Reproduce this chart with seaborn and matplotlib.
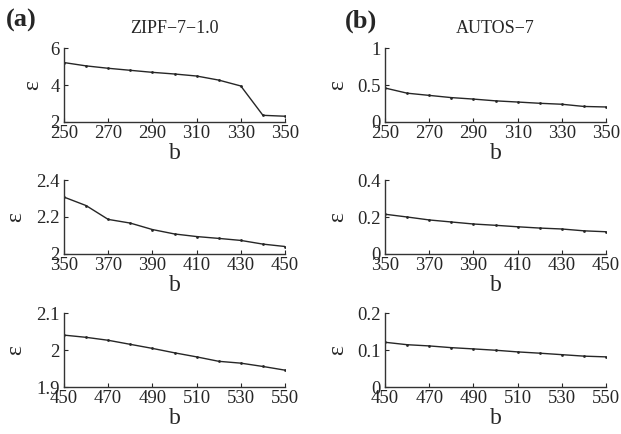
import matplotlib
matplotlib.use('Agg')
import matplotlib.pyplot as plt
import seaborn as sns
import pandas as pd

sns.set_style('ticks')
plt.rcParams['font.family'] = ['Liberation Serif', 'DejaVu Serif']
plt.rcParams['xtick.direction'] = 'in'
plt.rcParams['ytick.direction'] = 'in'

# b values per row
b_row1 = [250, 260, 270, 280, 290, 300, 310, 320, 330, 340, 350]
b_row2 = [350, 360, 370, 380, 390, 400, 410, 420, 430, 440, 450]
b_row3 = [450, 460, 470, 480, 490, 500, 510, 520, 530, 540, 550]

# ZIPF-7-1.0 epsilon
zipf_row1 = [5.22, 5.04, 4.91, 4.80, 4.69, 4.60, 4.49, 4.27, 3.95, 2.36, 2.31]
zipf_row2 = [2.308, 2.262, 2.187, 2.167, 2.132, 2.108, 2.094, 2.084, 2.073, 2.053, 2.040]
zipf_row3 = [2.041, 2.035, 2.027, 2.016, 2.005, 1.993, 1.982, 1.970, 1.965, 1.956, 1.946]

# AUTOS-7 epsilon
autos_row1 = [0.46, 0.39, 0.36, 0.33, 0.31, 0.286, 0.27, 0.253, 0.24, 0.21, 0.203]
autos_row2 = [0.215, 0.200, 0.184, 0.173, 0.162, 0.155, 0.147, 0.140, 0.135, 0.125, 0.120]
autos_row3 = [0.1216, 0.115, 0.1117, 0.107, 0.1036, 0.100, 0.0955, 0.092, 0.088, 0.084, 0.082]

zipf_yticks = [[2, 4, 6], [2, 2.2, 2.4], [1.9, 2, 2.1]]
zipf_ylabels = [['2', '4', '6'], ['2', '2.2', '2.4'], ['1.9', '2', '2.1']]
autos_yticks = [[0, 0.5, 1], [0, 0.2, 0.4], [0, 0.1, 0.2]]
autos_ylabels = [['0', '0.5', '1'], ['0', '0.2', '0.4'], ['0', '0.1', '0.2']]

fig = plt.figure(figsize=(6.21, 4.34), dpi=100)

bottoms = [0.719, 0.415, 0.108]
lefts = [0.103, 0.620]
w, h = 0.356, 0.170
# epsilon label offsets (axes coords), per column and row
ylab_x = [[-0.142, -0.217, -0.217], [-0.213, -0.213, -0.213]]

cols = [
    ([zipf_row1, zipf_row2, zipf_row3], zipf_yticks, zipf_ylabels),
    ([autos_row1, autos_row2, autos_row3], autos_yticks, autos_ylabels),
]
b_rows = [b_row1, b_row2, b_row3]

for c, (series, yticks_all, ylabels_all) in enumerate(cols):
    for r in range(3):
        ax = fig.add_axes([lefts[c], bottoms[r], w, h])
        df = pd.DataFrame({'b': b_rows[r], 'eps': series[r]})
        sns.lineplot(data=df, x='b', y='eps', ax=ax, color='#262626',
                     linewidth=1.0, marker='o', markersize=2,
                     markeredgewidth=0)
        x0 = b_rows[r][0]
        ax.set_xlim(x0, x0 + 100)
        ax.set_xticks([x0 + 20 * i for i in range(6)])
        yt = yticks_all[r]
        ax.set_ylim(yt[0], yt[-1])
        ax.set_yticks(yt)
        ax.set_yticklabels(ylabels_all[r])
        ax.tick_params(labelsize=13.5, length=3, width=0.8, colors='#262626')
        ax.tick_params(axis='x', pad=2)
        ax.tick_params(axis='y', pad=3)
        sns.despine(ax=ax)
        for s in ['left', 'bottom']:
            ax.spines[s].set_linewidth(1.0)
            ax.spines[s].set_color('#333333')
        ax.set_xlabel('b', fontsize=17, va='center')
        ax.xaxis.set_label_coords(0.5, -0.43)
        ax.set_ylabel('ε', fontsize=17, va='center')
        ax.yaxis.set_label_coords(ylab_x[c][r], 0.5)

fig.text(0.281, 0.934, 'ZIPF\u22127\u22121.0', ha='center', va='center', fontsize=13)
fig.text(0.797, 0.934, 'AUTOS\u22127', ha='center', va='center', fontsize=13)
fig.text(0.010, 0.952, '(a)', ha='left', va='center', fontsize=19, fontweight='bold')
fig.text(0.555, 0.952, '(b)', ha='left', va='center', fontsize=19, fontweight='bold')

fig.savefig('out.png', dpi=100)
